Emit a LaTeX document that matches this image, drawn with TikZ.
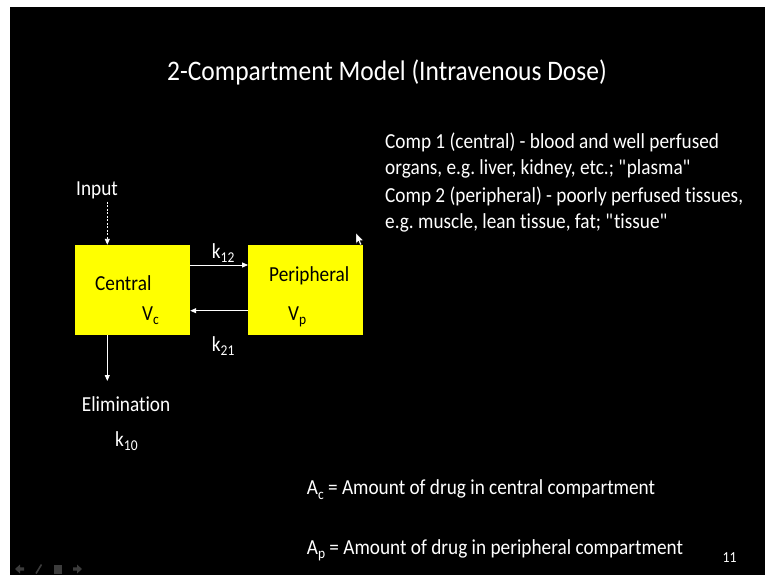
\documentclass[tikz,border=0pt]{standalone}
\usepackage{fontspec}
\setmainfont[Ligatures={NoCommon},FakeStretch=0.9]{Carlito}
\usetikzlibrary{arrows.meta}
\definecolor{navgrey}{RGB}{60,60,60}
\definecolor{boxyellow}{RGB}{255,255,0}
\newcommand{\lowsub}[1]{\raisebox{-0.22em}{\fontsize{15}{17}\selectfont #1}}
\frenchspacing
\begin{document}
\begin{tikzpicture}[x=1pt,y=-1pt,
  every node/.style={inner sep=0pt},
  txt/.style={text=white,anchor=base west,font=\fontsize{21.4}{25}\selectfont\frenchspacing},
  titletxt/.style={text=white,anchor=base west,font=\fontsize{28.3}{33}\selectfont},
  intxt/.style={text=black,anchor=base west,font=\fontsize{21.4}{25}\selectfont},
  smalltxt/.style={text=white,anchor=base west,font=\fontsize{15.3}{18}\selectfont},
  compbox/.style={fill=boxyellow,draw=none,minimum width=115pt,minimum height=90pt},
  arr/.style={draw=white,line width=0.9pt,-{Triangle[length=6pt,width=5pt]}},
  nav/.style={fill=navgrey,draw=none}]
% background
\useasboundingbox (0,0) rectangle (766,575);
\fill[white] (0,0) rectangle (766,575);
\fill[black] (10,7) rectangle (765,575);
% title
\node[titletxt] (title) at (167,81) {2-Compartment Model (Intravenous Dose)};
% boxes
\node[compbox] (central) at (132.5,290) {};
\node[compbox] (peripheral) at (305.8,290) {};
\node[intxt] (ctext) at (95,290) {Central};
\node[intxt] (vc) at (142,320) {V\lowsub{c}};
\node[intxt] (ptext) at (269,281) {Peripheral};
\node[intxt] (vp) at (288,320) {V\lowsub{p}};
% exchange arrows
\draw[arr] ([yshift=25pt]central.east) -- ([yshift=25pt]peripheral.west);
\draw[arr] ([yshift=-20.7pt]peripheral.west) -- ([yshift=-20.7pt]central.east);
\node[txt] (k12) at (211.7,258) {k\lowsub{12}};
\node[txt] (k21) at (211.7,351) {k\lowsub{21}};
% input
\node[txt] (input) at (76,196) {Input};
\coordinate (intop) at (107.3,201.7);
\draw[arr,dash pattern=on 2pt off 1.5pt] (intop) -- (central.north -| intop);
% elimination
\coordinate (elimend) at (107.3,381);
\draw[arr] (central.south -| elimend) -- (elimend);
\node[txt] (elim) at (81.7,411.7) {Elimination};
\node[txt] (k10) at (115,446) {k\lowsub{10}};
% description
\node[txt] (d1) at (385,148.3) {Comp 1 (central) - blood and well perfused};
\node[txt] (d2) at (385,175) {organs, e.g. liver, kidney, etc.; \textquotedbl plasma\textquotedbl};
\node[txt] (d3) at (385,202.5) {Comp 2 (peripheral) - poorly perfused tissues,};
\node[txt] (d4) at (385,228.5) {e.g. muscle, lean tissue, fat; \textquotedbl tissue\textquotedbl};
% amounts
\node[txt] (ac) at (306.7,494.3) {A\lowsub{c} = Amount of drug in central compartment};
\node[txt] (ap) at (306.7,554) {A\lowsub{p} = Amount of drug in peripheral compartment};
\node[smalltxt] (pnum) at (722.5,562.7) {11};
% mouse pointer
\filldraw[fill=white,draw=black,line width=0.3pt] (356,233) -- (356,243.5) -- (358.4,241.2) -- (360.2,245.2) -- (361.8,244.5) -- (360,240.6) -- (363.2,240.4) -- cycle;
% navigation icons
\fill[nav] (15,569) -- (20,564.5) -- (20,567.3) -- (24,567.3) -- (24,570.7) -- (20,570.7) -- (20,573.5) -- cycle;
\draw[navgrey,line width=1.6pt] (36,573.5) -- (41.5,564.5);
\fill[nav] (54,564.5) rectangle (62,573.5);
\fill[nav] (82,569) -- (77,564.5) -- (77,567.3) -- (73,567.3) -- (73,570.7) -- (77,570.7) -- (77,573.5) -- cycle;
\end{tikzpicture}
\end{document}
